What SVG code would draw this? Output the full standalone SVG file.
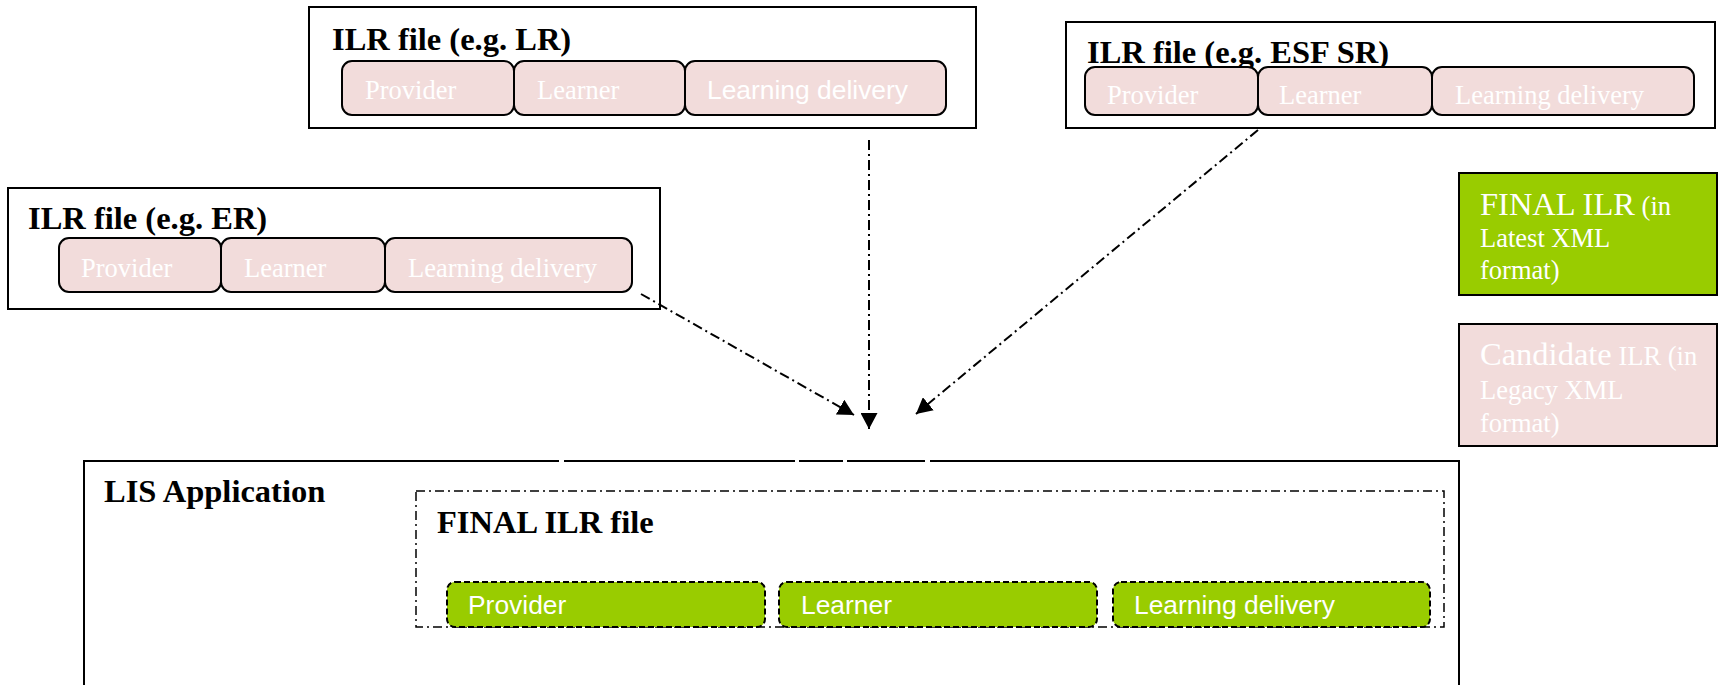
<svg xmlns="http://www.w3.org/2000/svg" width="1719" height="685" viewBox="0 0 1719 685">
<defs>
<marker id="ah" markerUnits="userSpaceOnUse" markerWidth="17" markerHeight="17" viewBox="0 0 17 17" refX="16" refY="8.5" orient="auto">
<path d="M0,0 L16,8.5 L0,17 Z" fill="#000"/>
</marker>
</defs>
<style>
.box{fill:#fff;stroke:#000;stroke-width:2}
.pill{fill:#F2DCDB;stroke:#000;stroke-width:2}
.gpill{fill:#99CC00;stroke:#000;stroke-width:2;stroke-dasharray:6 3}
.title{font-family:"Liberation Serif",serif;font-weight:bold;font-size:32.5px;fill:#000}
.st{font-family:"Liberation Serif",serif;font-size:26.5px;fill:#fff}
.ss{font-family:"Liberation Sans",sans-serif;font-size:26.4px;fill:#fff}
.conn{fill:none;stroke:#000;stroke-width:2;stroke-dasharray:10 4 2 4}
</style>
<g id="lr-file">
<rect class="box" x="309" y="7" width="667" height="121"/>
<text class="title" x="332" y="50">ILR file (e.g. LR)</text>
<rect class="pill" x="342" y="61" width="172" height="54" rx="10"/>
<rect class="pill" x="514" y="61" width="171" height="54" rx="10"/>
<rect class="pill" x="685" y="61" width="261" height="54" rx="10"/>
<text class="st" x="365" y="99">Provider</text>
<text class="st" x="537" y="99">Learner</text>
<text class="ss" x="707" y="99">Learning delivery</text>
</g>
<g id="esf-file">
<rect class="box" x="1066" y="22" width="649" height="106"/>
<text class="title" x="1087" y="63">ILR file (e.g. ESF SR)</text>
<rect class="pill" x="1085" y="67" width="173" height="48" rx="10"/>
<rect class="pill" x="1258" y="67" width="174" height="48" rx="10"/>
<rect class="pill" x="1432" y="67" width="262" height="48" rx="10"/>
<text class="st" x="1107" y="104">Provider</text>
<text class="st" x="1279" y="104">Learner</text>
<text class="st" x="1455" y="104">Learning delivery</text>
</g>
<g id="er-file">
<rect class="box" x="8" y="188" width="652" height="121"/>
<text class="title" x="28" y="229">ILR file (e.g. ER)</text>
<rect class="pill" x="59" y="238" width="162" height="54" rx="10"/>
<rect class="pill" x="221" y="238" width="164" height="54" rx="10"/>
<rect class="pill" x="385" y="238" width="247" height="54" rx="10"/>
<text class="st" x="81" y="277">Provider</text>
<text class="st" x="244" y="277">Learner</text>
<text class="st" x="408" y="277">Learning delivery</text>
</g>
<g id="legend-final">
<rect x="1459" y="173" width="258" height="122" fill="#99CC00" stroke="#000" stroke-width="2"/>
<text class="st" x="1480" y="215"><tspan font-size="32.5">FINAL ILR</tspan> (in</text>
<text class="st" x="1480" y="247">Latest XML</text>
<text class="st" x="1480" y="279">format)</text>
</g>
<g id="legend-candidate">
<rect x="1459" y="324" width="258" height="122" fill="#F2DCDB" stroke="#000" stroke-width="2"/>
<text class="st" x="1480" y="365"><tspan font-size="32.5">Candidate</tspan> ILR (in</text>
<text class="st" x="1480" y="399">Legacy XML</text>
<text class="st" x="1480" y="432">format)</text>
</g>
<g id="lis-application">
<rect class="box" x="84" y="461" width="1375" height="240"/>
<text class="title" x="104" y="502">LIS Application</text>
<g fill="#fff">
<rect x="559" y="459" width="5" height="4"/>
<rect x="795" y="459" width="4" height="4"/>
<rect x="843" y="459" width="4" height="4"/>
<rect x="925" y="459" width="5" height="4"/>
</g>
</g>
<g id="final-ilr-file">
<rect x="416" y="491" width="1028" height="136" fill="none" stroke="#000" stroke-width="1.5" stroke-dasharray="9 4 2 4"/>
<text class="title" x="437" y="533">FINAL ILR file</text>
<rect class="gpill" x="447" y="582" width="318" height="45" rx="8"/>
<rect class="gpill" x="779" y="582" width="318" height="45" rx="8"/>
<rect class="gpill" x="1113" y="582" width="317" height="45" rx="8"/>
<text class="ss" x="468" y="614">Provider</text>
<text class="ss" x="801" y="614">Learner</text>
<text class="ss" x="1134" y="614">Learning delivery</text>
</g>
<g id="connectors">
<line class="conn" x1="869" y1="140" x2="869" y2="429" marker-end="url(#ah)"/>
<line class="conn" x1="641" y1="294" x2="854" y2="415" marker-end="url(#ah)"/>
<line class="conn" x1="1258" y1="130" x2="916" y2="414" marker-end="url(#ah)"/>
</g>
</svg>
